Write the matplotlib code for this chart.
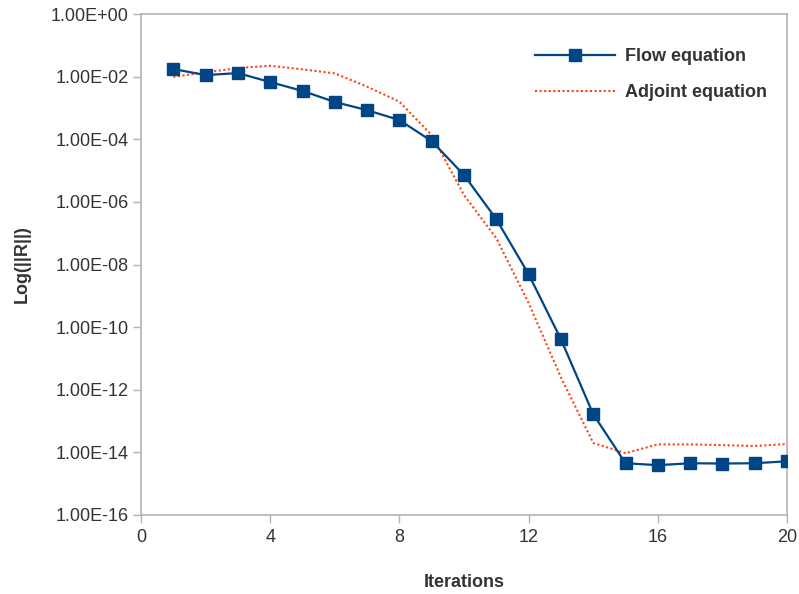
import numpy as np
import matplotlib
matplotlib.use("Agg")
import matplotlib.pyplot as plt
from matplotlib.ticker import FixedLocator, FuncFormatter

# iteration numbers and residual norms
iterations = list(range(1, 21))
flow_residual = [1.75e-2, 1.12e-2, 1.3e-2, 6.7e-3, 3.5e-3, 1.55e-3, 8.5e-4, 4.1e-4,
                 8.7e-5, 7.2e-6, 2.8e-7, 4.9e-9, 4.1e-11, 1.66e-13, 4.5e-15, 3.9e-15,
                 4.5e-15, 4.4e-15, 4.5e-15, 5.2e-15]
adjoint_residual = [9.9e-3, 1.37e-2, 1.88e-2, 2.23e-2, 1.71e-2, 1.27e-2, 4.8e-3, 1.58e-3,
                    1.35e-4, 1.65e-6, 6.9e-8, 5.9e-10, 2.5e-12, 2.0e-14, 9.4e-15, 1.8e-14,
                    1.8e-14, 1.7e-14, 1.6e-14, 1.85e-14]
x_ticks = [0, 4, 8, 12, 16, 20]
y_ticks = [10.0 ** e for e in range(0, -17, -2)]

plt.rcParams["font.family"] = ["Liberation Sans", "DejaVu Sans"]
text_col = "#333333"
axis_col = "#b3b3b3"

fig = plt.figure(figsize=(7.99, 5.94), dpi=100)
ax = fig.add_axes([0.1765, 0.133, 0.8085, 0.8434])

ax.plot(iterations, flow_residual, color="#004586", lw=1.6, marker="s", ms=8,
        label="Flow equation", zorder=3)
ax.plot(iterations, adjoint_residual, color="#ff420e", lw=1.5, ls=(0, (1, 1.2)),
        label="Adjoint equation", zorder=2)

ax.set_yscale("log")
ax.set_xlim(0, 20)
ax.set_ylim(1e-16, 1e0)
ax.xaxis.set_major_locator(FixedLocator(x_ticks))
ax.yaxis.set_major_locator(FixedLocator(y_ticks))
ax.yaxis.set_minor_locator(FixedLocator([]))
ax.yaxis.set_major_formatter(FuncFormatter(lambda v, pos: "{:.2E}".format(v)))

for s in ax.spines.values():
    s.set_color(axis_col)
    s.set_linewidth(1.2)
ax.tick_params(axis="both", direction="out", length=6, width=1, color=axis_col,
               labelsize=13, labelcolor=text_col, pad=3)
ax.tick_params(axis="x", pad=4)

ax.set_xlabel("Iterations", fontsize=13, fontweight="bold", color=text_col, labelpad=20)
ax.set_ylabel("Log(||R||)", fontsize=13, fontweight="bold", color=text_col, labelpad=14)

leg = ax.legend(loc="upper left", bbox_to_anchor=(0.61, 0.932), frameon=False,
                borderpad=0, borderaxespad=0,
                prop={"size": 13, "weight": "bold"}, handlelength=4.4,
                labelspacing=1.05, handletextpad=0.6)
for t in leg.get_texts():
    t.set_color(text_col)

fig.savefig("out.png", dpi=100)
